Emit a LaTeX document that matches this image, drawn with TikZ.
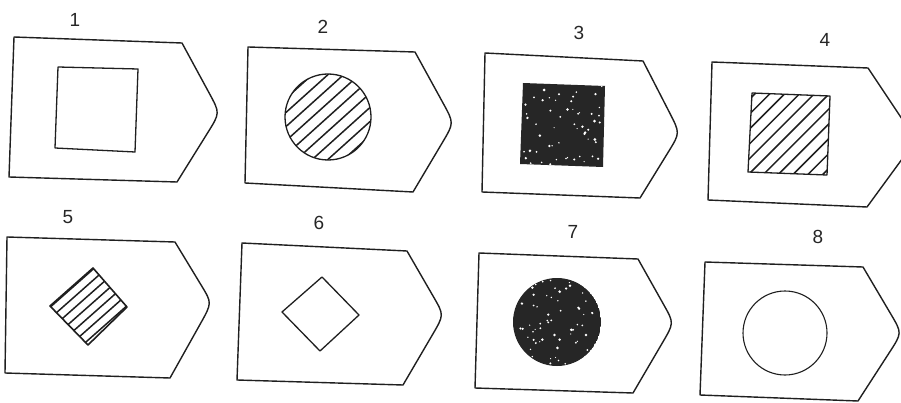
\documentclass[tikz,border=0pt]{standalone}
\usepackage{fontspec}
\setmainfont{Liberation Sans}
\usetikzlibrary{calc}
\newcommand{\tagoutline}[6]{%
  \draw[outline] (#1) -- (#2) -- ($(#2)!#6!(#3)$) .. controls (#3) .. ($(#3)!1-#6!(#4)$) -- (#4) -- (#5) -- cycle;}
\begin{document}
\begin{tikzpicture}[x=1pt,y=-1pt,
  outline/.style={line width=1.4pt,line join=round,black!88},
  inner/.style={line width=1.3pt,line join=round,black!88},
  hatch/.style={line width=1.5pt,black!88},
  lbl/.style={font=\fontsize{19}{19}\selectfont,text=black!85,inner sep=0pt}]
\useasboundingbox (0,0) rectangle (901,403);
\clip (0,0) rectangle (901,403);
\fill[white] (0,0) rectangle (901,403);

% labels
\node[lbl] (l1) at (75,20) {1};
\node[lbl] (l2) at (323,27) {2};
\node[lbl] (l3) at (579,33) {3};
\node[lbl] (l4) at (825,40) {4};
\node[lbl] (l5) at (68,217) {5};
\node[lbl] (l6) at (319,223) {6};
\node[lbl] (l7) at (573,232) {7};
\node[lbl] (l8) at (818,237) {8};

% ---------- 1 ----------
\coordinate (a1) at (14,37); \coordinate (b1) at (182,43); \coordinate (t1) at (220,113);
\coordinate (c1) at (177,182); \coordinate (d1) at (9,177);
\tagoutline{a1}{b1}{t1}{c1}{d1}{0.72}
\draw[inner] (58,67) -- (138,69) -- (135,152) -- (55,148) -- cycle;

% ---------- 2 ----------
\coordinate (a2) at (248,47); \coordinate (b2) at (415,52); \coordinate (t2) at (454,123);
\coordinate (c2) at (413,192); \coordinate (d2) at (245,183);
\tagoutline{a2}{b2}{t2}{c2}{d2}{0.72}
\begin{scope}
  \clip (328,117) circle (43);
  \foreach \k in {-4,...,4}
    \draw[hatch,shift={(328,117)},rotate=42] (-60,\k*10.5) -- (60,\k*10.5);
  \fill[black!88,shift={(328,117)},rotate=42] (-60,-48) rectangle (60,-43);
  \fill[black!88,shift={(328,117)},rotate=42] (-60,43) rectangle (60,48);
\end{scope}
\draw[inner] (328,117) circle (43);

% ---------- 3 ----------
\coordinate (a3) at (485,53); \coordinate (b3) at (643,61); \coordinate (t3) at (680,133);
\coordinate (c3) at (640,198); \coordinate (d3) at (482,192);
\tagoutline{a3}{b3}{t3}{c3}{d3}{0.72}
\begin{scope}
  \path[clip] (523,83) -- (605,86) -- (603,167) -- (520,164) -- cycle;
  \fill[black!85] (515,78) rectangle (610,172);
  \pgfmathsetseed{11}
  \foreach \i in {1,...,55}
    \fill[white] ({563+40*rand},{125+40*rand}) circle ({0.6+0.9*rnd});
\end{scope}

% ---------- 4 ----------
\coordinate (a4) at (712,62); \coordinate (b4) at (868,68); \coordinate (t4) at (916,140);
\coordinate (c4) at (867,207); \coordinate (d4) at (708,200);
\draw[outline] (a4) -- (b4) -- (t4) -- (c4) -- (d4) -- cycle;
\begin{scope}
  \path[clip] (752,93) -- (830,96) -- (827,175) -- (748,172) -- cycle;
  \foreach \k in {-6,...,6}
    \draw[hatch,shift={(789,134)},rotate=45] (-70,\k*10.5) -- (70,\k*10.5);
\end{scope}
\draw[inner] (752,93) -- (830,96) -- (827,175) -- (748,172) -- cycle;

% ---------- 5 ----------
\coordinate (a5) at (7,237); \coordinate (b5) at (175,242); \coordinate (t5) at (212,303);
\coordinate (c5) at (170,378); \coordinate (d5) at (5,373);
\tagoutline{a5}{b5}{t5}{c5}{d5}{0.72}
\begin{scope}
  \path[clip] (93,268) -- (127,307) -- (88,345) -- (50,306) -- cycle;
  \foreach \k in {-3,...,3}
    \draw[hatch,shift={(88.5,306.5)},rotate=41.5] (-50,\k*8.3) -- (50,\k*8.3);
\end{scope}
\draw[inner,line width=1.6pt] (93,268) -- (127,307) -- (88,345) -- (50,306) -- cycle;

% ---------- 6 ----------
\coordinate (a6) at (242,243); \coordinate (b6) at (407,251); \coordinate (t6) at (444,315);
\coordinate (c6) at (403,385); \coordinate (d6) at (237,380);
\tagoutline{a6}{b6}{t6}{c6}{d6}{0.72}
\draw[inner] (322,277) -- (359,315) -- (320,351) -- (282,312) -- cycle;

% ---------- 7 ----------
\coordinate (a7) at (479,253); \coordinate (b7) at (638,259); \coordinate (t7) at (674,323);
\coordinate (c7) at (633,393); \coordinate (d7) at (475,388);
\tagoutline{a7}{b7}{t7}{c7}{d7}{0.72}
\begin{scope}
  \clip (557,322) circle (44);
  \fill[black!85] (557,322) circle (44);
  \pgfmathsetseed{23}
  \foreach \i in {1,...,70}
    \fill[white] ({557+42*rand},{322+42*rand}) circle ({0.6+0.9*rnd});
\end{scope}

% ---------- 8 ----------
\coordinate (a8) at (705,262); \coordinate (b8) at (863,267); \coordinate (t8) at (902,333);
\coordinate (c8) at (858,401); \coordinate (d8) at (700,395);
\tagoutline{a8}{b8}{t8}{c8}{d8}{0.72}
\draw[inner,line width=1.1pt] (785,333) circle (42);
\end{tikzpicture}
\end{document}
